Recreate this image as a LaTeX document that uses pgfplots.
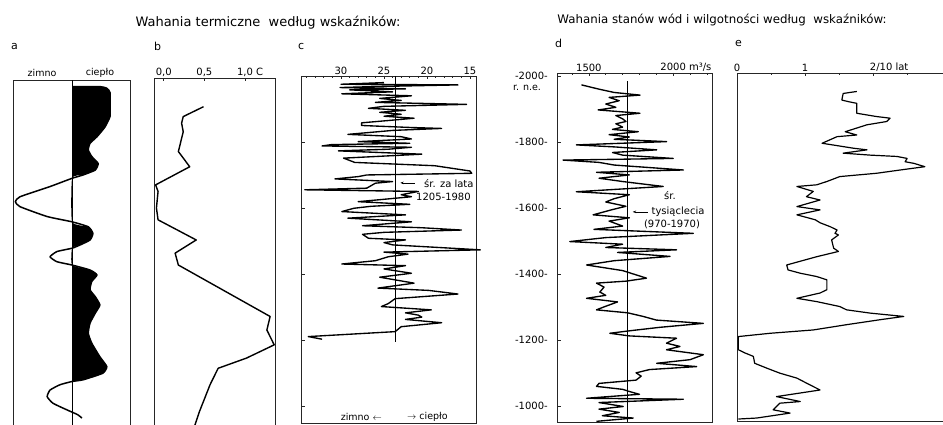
\documentclass[border=0pt]{standalone}
\usepackage{pgfplots}
\pgfplotsset{compat=1.18}
\usepackage{fontspec}
\setmainfont{DejaVu Sans}
\usetikzlibrary{arrows.meta}
\begin{document}
\begin{tikzpicture}[x=1pt,y=1pt]
\path[use as bounding box] (0pt,0pt) rectangle (943pt,-425pt);
\pgfplotsset{panel/.style={
  scale only axis, anchor=north west, clip=false,
  axis line style={line width=0.8pt, black!85},
  tick style={black!85, line width=0.6pt},
  major tick length=3.5pt, minor tick length=2.2pt,
  tick align=inside,
  xtick pos=right, xticklabel pos=right,
  ytick=\empty,
  ticklabel style={font=\fontsize{10}{11}\selectfont, inner sep=1pt, text=black},
  /pgf/number format/assume math mode=true,
  every axis plot/.append style={line join=round, black},
}}
% ---------------- panel a
\begin{axis}[panel, at={(13pt,-80pt)}, width=117pt, height=346pt,
  xmin=-1.02, xmax=1.0, ymin=939, ymax=1988, xtick=\empty]
\addplot[fill=black, draw=none, smooth, tension=0.3] coordinates {
(0,1968)(0.48,1968)(0.60,1963)(0.655,1950)(0.655,1900)(0.655,1877)(0.57,1846)
(0.43,1816)(0.31,1796)(0.28,1776)(0.34,1756)(0.45,1735)(0.40,1715)(0.19,1700)
(0,1690)(0,1558)(0.28,1543)(0.36,1523)(0.31,1503)(0.14,1488)(0,1478)(0,1427)
(0.31,1412)(0.43,1397)(0.34,1377)(0.31,1352)(0.40,1331)(0.48,1306)(0.40,1281)
(0.31,1251)(0.28,1220)(0.34,1190)(0.48,1149)(0.60,1119)(0.53,1099)(0.19,1079)(0,1074)};
\addplot[line width=1.5pt, smooth, tension=0.3] coordinates {
(0,1968)(0.48,1968)(0.60,1963)(0.655,1950)(0.655,1900)(0.655,1877)(0.57,1846)
(0.43,1816)(0.31,1796)(0.28,1776)(0.34,1756)(0.45,1735)(0.40,1715)(0.19,1700)
(0,1690)(-0.38,1665)(-0.90,1634)(-0.98,1619)(-0.90,1604)(-0.43,1574)(0,1558)
(0.28,1543)(0.36,1523)(0.31,1503)(0.14,1488)(0,1478)(-0.26,1468)(-0.38,1452)
(-0.26,1437)(0,1427)(0.31,1412)(0.43,1397)(0.34,1377)(0.31,1352)(0.40,1331)
(0.48,1306)(0.40,1281)(0.31,1251)(0.28,1220)(0.34,1190)(0.48,1149)(0.60,1119)
(0.53,1099)(0.19,1079)(0,1074)(-0.21,1064)(-0.38,1048)(-0.43,1028)(-0.33,1008)
(-0.09,988)(0.10,973)(0.17,963)};
\addplot[line width=0.9pt] coordinates {(0,939)(0,1988)};
\end{axis}
% ---------------- panel b
\begin{axis}[panel, at={(154pt,-78pt)}, width=121pt, height=348pt,
  xmin=-0.12, xmax=1.37, ymin=939, ymax=1994,
  xtick={0,0.5,1}, xticklabels={{0,0},{0,5},{1,0\rlap{ C}}}]
\addplot[line width=1.4pt] coordinates {
(0.49,1907)(0.24,1877)(0.22,1857)(0.24,1831)(0.18,1771)(0.32,1725)(-0.10,1670)
(-0.07,1650)(-0.09,1600)(-0.07,1564)(0.40,1503)(0.14,1463)(0.18,1427)(1.31,1271)
(1.27,1230)(1.36,1185)(1.02,1145)(0.67,1114)(0.57,1064)(0.44,983)(0.38,939)};
\end{axis}
% ---------------- panel c
\begin{axis}[panel, at={(301pt,-76pt)}, width=175pt, height=347pt,
  x dir=reverse, xmin=14.3, xmax=34.65, ymin=948, ymax=2000,
  xtick={15,20,25,30}, minor xtick={15,16,...,34},
  ytick={1000,1200,...,1800}, yticklabels={}, ytick pos=left]
\addplot[line width=1.35pt] coordinates {
(25.0,1980)(30.0,1975)(16.4,1973)(26.0,1968)(30.1,1965)(22.5,1961)(29.0,1958)
(24.0,1952)(29.9,1946)(21.8,1940)(25.5,1932)(23.0,1926)(26.0,1920)(15.4,1914)
(25.0,1908)(26.8,1902)(22.5,1896)(25.5,1890)(23.0,1884)(25.0,1878)(21.5,1872)
(24.5,1865)(27.6,1858)(27.6,1850)(22.0,1844)(18.3,1841)(24.0,1835)(29.2,1823)
(23.0,1816)(21.8,1809)(28.0,1801)(22.0,1796)(31.1,1792)(32.2,1788)(21.8,1784)
(24.5,1778)(30.3,1773)(20.6,1763)(29.7,1751)(28.4,1738)(19.1,1728)(15.0,1712)
(14.8,1705)(27.0,1700)(28.0,1695)(30.7,1688)(24.0,1680)(26.0,1675)(27.0,1660)
(34.2,1655)(21.0,1650)(23.0,1640)(21.8,1634)(25.5,1625)(28.0,1619)(22.0,1611)
(26.5,1605)(28.5,1599)(29.9,1589)(22.5,1579)(29.2,1569)(21.8,1558)(27.5,1546)
(20.6,1540)(16.0,1533)(25.0,1526)(27.5,1520)(26.8,1508)(22.5,1503)(25.0,1495)
(24.0,1488)(13.8,1473)(25.0,1466)(22.2,1460)(24.5,1452)(26.0,1440)(29.9,1430)
(22.5,1425)(25.0,1415)(21.8,1402)(25.5,1390)(21.5,1372)(25.7,1357)(19.8,1350)
(16.4,1339)(23.7,1325)(24.5,1310)(25.3,1301)(19.5,1291)(22.5,1282)(21.0,1275)
(20.6,1269)(22.5,1262)(18.3,1252)(23.0,1240)(23.7,1225)(33.8,1210)(32.2,1202)};
\addplot[line width=1.0pt] coordinates {(23.7,1195)(23.7,2000)};
\draw[-{Stealth[length=3.5pt]}, line width=0.6pt] (axis cs:21.4,1676) -- (axis cs:23.1,1676);
\end{axis}
% ---------------- panel d
\begin{axis}[panel, at={(557pt,-73pt)}, width=155pt, height=349pt,
  xmin=1311, xmax=2230, ymin=951, ymax=2009,
  xtick={1500,2000}, xticklabels={1500,{2000\rlap{ m³/s}}},
  minor xtick={1400,1500,...,2200},
  ytick={1000,1200,...,2000}, ytick pos=left,
  yticklabels={-1000-,-1200-,-1400-,-1600-,-1800-,-2000-},
  yticklabel style={xshift=-8pt}]
\addplot[line width=1.35pt] coordinates {
(1456,1973)(1560,1960)(1650,1950)(1803,1942)(1620,1935)(1680,1925)(1600,1915)
(1660,1905)(1555,1897)(1803,1887)(1660,1880)(1700,1870)(1720,1862)(1660,1855)
(1700,1845)(1640,1838)(1793,1831)(1620,1822)(1740,1815)(1650,1808)(1961,1801)
(1426,1791)(1650,1785)(1902,1776)(1640,1768)(1700,1760)(2000,1750)(1347,1745)
(1560,1738)(1650,1730)(2060,1715)(1545,1708)(1740,1700)(1560,1690)(1700,1680)
(1941,1665)(1426,1649)(1740,1640)(1650,1628)(1600,1618)(1720,1605)(1640,1595)
(1525,1579)(1740,1570)(1620,1560)(1700,1545)(1530,1535)(2119,1523)(1600,1510)
(1387,1498)(1700,1490)(1600,1480)(2020,1473)(1670,1465)(1981,1453)(1650,1440)
(1486,1427)(1700,1410)(1842,1387)(1720,1378)(1545,1372)(1590,1360)(1565,1345)
(1600,1335)(1486,1326)(1670,1315)(1590,1300)(1545,1291)(1730,1282)(1822,1271)
(1900,1260)(2179,1250)(1920,1238)(1750,1228)(1624,1220)(1740,1212)(2020,1205)
(1960,1190)(2040,1180)(1960,1170)(2179,1155)(2100,1140)(1902,1129)(2139,1119)
(1860,1110)(1780,1100)(1810,1090)(1780,1078)(1560,1068)(1545,1059)(1700,1050)
(1743,1043)(1800,1035)(1486,1023)(2060,1020)(1560,1010)(1704,998)(1560,990)
(1680,980)(1580,970)(1763,963)(1545,953)};
\addplot[line width=1.0pt] coordinates {(1728,951)(1728,1985)};
\draw[-{Stealth[length=3.5pt]}, line width=0.6pt] (axis cs:1850,1588) -- (axis cs:1760,1588);
\end{axis}
% ---------------- panel e
\begin{axis}[panel, at={(737pt,-73pt)}, width=211pt, height=348pt,
  xmin=0, xmax=3.1, ymin=954, ymax=2009,
  xtick={0,1,2}, xticklabels={0,1,{2\rlap{/10 lat}}}, minor xtick={0.5,1.5,2.5}]
\addplot[line width=1.2pt] coordinates {
(1.76,1953)(1.56,1947)(1.54,1927)(1.64,1922)(1.76,1917)(1.76,1887)(2.05,1877)
(2.25,1872)(2.20,1862)(1.91,1852)(1.59,1831)(1.76,1821)(1.47,1816)(1.25,1796)
(1.71,1781)(1.91,1776)(1.56,1766)(1.96,1760)(2.35,1756)(2.50,1750)(2.47,1740)
(2.60,1735)(2.76,1725)(2.58,1720)(2.40,1715)(2.05,1705)(1.51,1695)(1.32,1680)
(1.17,1670)(0.88,1665)(1.12,1650)(1.02,1634)(1.22,1624)(0.88,1604)(1.22,1594)
(0.88,1579)(1.15,1564)(1.22,1555)(1.37,1543)(1.47,1533)(1.44,1523)(1.49,1518)
(1.39,1503)(1.42,1478)(1.49,1468)(1.17,1452)(0.73,1427)(0.75,1412)(0.93,1402)
(1.17,1392)(1.32,1382)(1.32,1352)(1.22,1342)(0.88,1326)(1.17,1316)(1.51,1301)
(1.61,1291)(1.96,1281)(2.45,1271)(2.10,1261)(1.61,1246)(1.12,1230)(0.49,1220)
(0.02,1210)(0.02,1170)(0.12,1160)(0.24,1150)(0.26,1129)(0.44,1114)(0.63,1099)
(0.88,1084)(1.02,1069)(1.22,1048)(0.58,1028)(0.93,1013)(0.63,1008)(0.53,988)
(0.78,978)(0.29,963)(0.02,960)};
\end{axis}
% ---------------- texts
\begin{scope}[every node/.style={text=black, inner sep=0pt}]
\node[font=\fontsize{13}{14}\selectfont] at (268pt,-23pt) {Wahania termiczne\ \ według wskaźników:};
\node[font=\fontsize{11.8}{13}\selectfont] at (722pt,-20pt) {Wahania stanów wód i wilgotności według\ \ wskaźników:};
\node[font=\fontsize{11}{12}\selectfont, anchor=west] at (11pt,-46pt) {a};
\node[font=\fontsize{11}{12}\selectfont, anchor=west] at (154pt,-46pt) {b};
\node[font=\fontsize{11}{12}\selectfont, anchor=west] at (298pt,-46pt) {c};
\node[font=\fontsize{11}{12}\selectfont, anchor=west] at (555pt,-43pt) {d};
\node[font=\fontsize{11}{12}\selectfont, anchor=west] at (735pt,-43pt) {e};
\node[font=\fontsize{9.5}{10}\selectfont] at (42pt,-73pt) {zimno};
\node[font=\fontsize{9.5}{10}\selectfont] at (100pt,-73pt) {ciepło};
\node[font=\fontsize{9.5}{10}\selectfont] at (527pt,-88pt) {r. n.e.};
\node[font=\fontsize{10}{11}\selectfont, anchor=west] at (424pt,-184pt) {śr. za lata};
\node[font=\fontsize{10}{11}\selectfont, anchor=west] at (416pt,-197pt) {1205-1980};
\node[font=\fontsize{10}{11}\selectfont] at (670pt,-196pt) {śr.};
\node[font=\fontsize{10}{11}\selectfont] at (678pt,-212pt) {tysiąclecia};
\node[font=\fontsize{10}{11}\selectfont] at (672pt,-224pt) {(970-1970)};
\node[font=\fontsize{9.5}{10}\selectfont, anchor=east] at (382pt,-417pt) {zimno $\leftarrow$};
\node[font=\fontsize{9.5}{10}\selectfont, anchor=west] at (407pt,-417pt) {$\rightarrow$ ciepło};
\end{scope}
\end{tikzpicture}
\end{document}
